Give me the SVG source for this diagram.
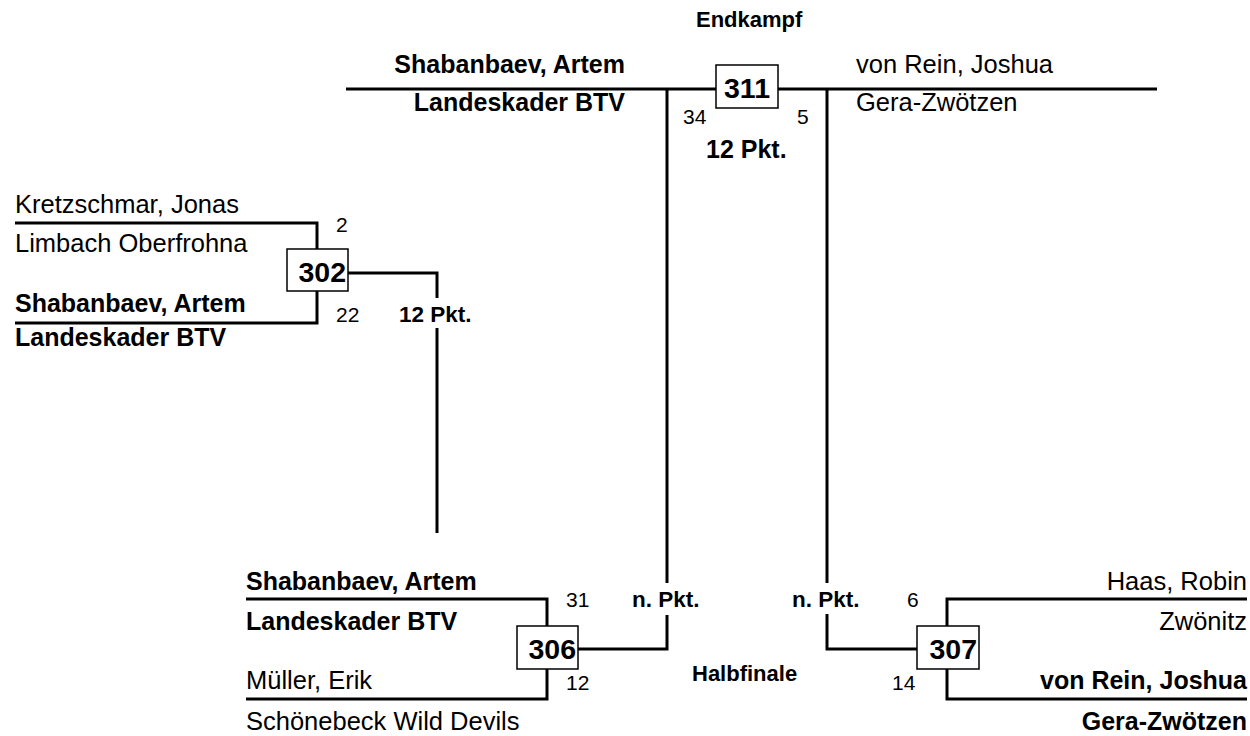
<svg xmlns="http://www.w3.org/2000/svg" width="1250" height="736" viewBox="0 0 1250 736">
<style>
text{font-family:"Liberation Sans",Arial,sans-serif;fill:#000}
.n{font-size:25.5px}
.b{font-weight:bold;font-size:25px}
.num{font-size:21px}
.box{font-size:28.5px;font-weight:bold}
.lbl{font-size:22.5px;font-weight:bold}
.ttl{font-size:22px;font-weight:bold}
.e{text-anchor:end}
.ln{fill:none;stroke:#000;stroke-width:3}
.bx{fill:#fff;stroke:#000;stroke-width:1.5}
</style>
<rect width="1250" height="736" fill="#fff"/>
<g id="titles">
<text class="ttl" x="696" y="27">Endkampf</text>
<text class="ttl" x="692" y="681">Halbfinale</text>
</g>
<g id="connectors">
<path class="ln" d="M346,89H1157"/>
<path class="ln" d="M667,89V583M667,615V649H578"/>
<path class="ln" d="M827,89V583M827,614V649H917"/>
<path class="ln" d="M15,223H317V249M317,291V323H15"/>
<path class="ln" d="M348,273H437V298M437,328V533"/>
<path class="ln" d="M246,599H547V626M547,669V699H246"/>
<path class="ln" d="M1247,599H947V626M947,669V699H1247"/>
</g>
<g id="m311">
<rect class="bx" x="716" y="65" width="62" height="43"/>
<text class="box" x="747" y="98" text-anchor="middle">311</text>
<text class="num" x="683" y="124">34</text>
<text class="num" x="797" y="124">5</text>
<text class="b" x="706" y="158">12 Pkt.</text>
<text class="b e" x="625" y="73">Shabanbaev, Artem</text>
<text class="b e" x="625" y="111">Landeskader BTV</text>
<text class="n" x="856" y="73">von Rein, Joshua</text>
<text class="n" x="856" y="111">Gera-Zwötzen</text>
</g>
<g id="m302">
<rect class="bx" x="287" y="249" width="61" height="42"/>
<text class="box e" x="346" y="282">302</text>
<text class="num" x="336" y="232">2</text>
<text class="num" x="336" y="322">22</text>
<text class="lbl" x="399" y="322">12 Pkt.</text>
<text class="n" x="15" y="213">Kretzschmar, Jonas</text>
<text class="n" x="15" y="252">Limbach Oberfrohna</text>
<text class="b" x="15" y="312">Shabanbaev, Artem</text>
<text class="b" x="15" y="346">Landeskader BTV</text>
</g>
<g id="m306">
<rect class="bx" x="517" y="626" width="61" height="43"/>
<text class="box e" x="576" y="659">306</text>
<text class="num" x="566" y="607">31</text>
<text class="num" x="566" y="690">12</text>
<text class="lbl" x="632" y="607">n. Pkt.</text>
<text class="b" x="246" y="590">Shabanbaev, Artem</text>
<text class="b" x="246" y="630">Landeskader BTV</text>
<text class="n" x="246" y="689">Müller, Erik</text>
<text class="n" x="246" y="730">Schönebeck Wild Devils</text>
</g>
<g id="m307">
<rect class="bx" x="917" y="626" width="62" height="43"/>
<text class="box e" x="977" y="659">307</text>
<text class="num" x="907" y="607">6</text>
<text class="num" x="892" y="690">14</text>
<text class="lbl" x="792" y="607">n. Pkt.</text>
<text class="n e" x="1247" y="590">Haas, Robin</text>
<text class="n e" x="1247" y="630">Zwönitz</text>
<text class="b e" x="1247" y="689">von Rein, Joshua</text>
<text class="b e" x="1247" y="730">Gera-Zwötzen</text>
</g>
</svg>
